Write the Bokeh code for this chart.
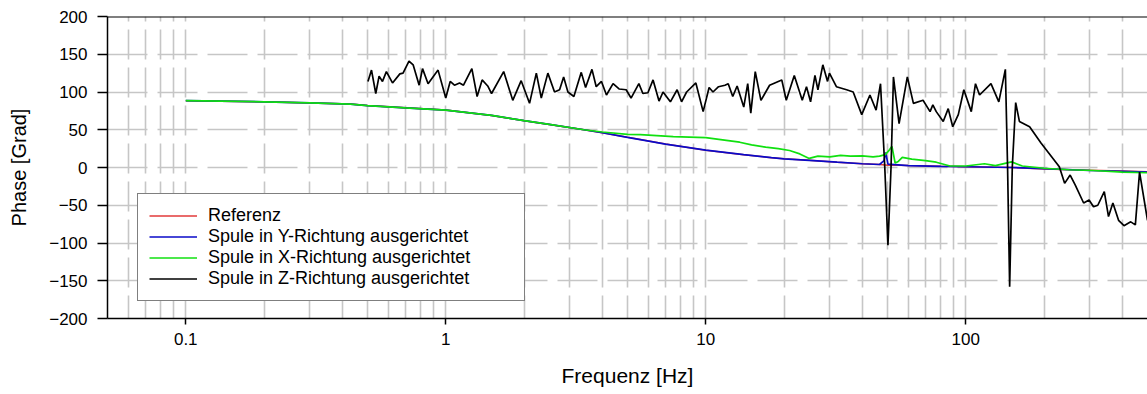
from bokeh.plotting import figure
from bokeh.models import FixedTicker, CustomJSTickFormatter, Span
from bokeh.embed import file_html
from bokeh.resources import INLINE

# ---------------- data ----------------
series_names = ["Referenz",
                "Spule in Y-Richtung ausgerichtet",
                "Spule in X-Richtung ausgerichtet",
                "Spule in Z-Richtung ausgerichtet"]

freq_ref = [0.1, 0.2, 0.3, 0.43, 0.5, 0.7, 1.0, 1.5, 2.0, 2.5, 3.4, 4.0, 5.0, 5.6, 7.0,
            10.0, 14.0, 17.9, 20.0, 25.0, 32.0, 40.0, 46.6, 50.2, 55.0, 60.0, 80.0, 100.0,
            150.0, 200.0, 300.0, 400.0, 500.0]
phase_ref = [88.5, 87, 85.5, 84, 82, 79, 76, 69, 62, 57, 50, 46, 40, 37, 31,
             23, 17, 13, 11.5, 9.5, 7, 5, 4, 3, 3, 2.5, 1.5, 1,
             0, -2, -3.5, -4.5, -5.5]

freq_y = [0.1, 0.2, 0.3, 0.43, 0.5, 0.7, 1.0, 1.5, 2.0, 2.5, 3.4, 4.0, 5.0, 5.6, 7.0,
          10.0, 14.0, 17.9, 20.0, 25.0, 32.0, 40.0, 46.6, 48.5, 49.2, 50.2, 55.0, 60.0,
          80.0, 100.0, 150.0, 200.0, 300.0, 400.0, 500.0]
phase_y = [88.5, 87, 85.5, 84, 82, 79, 76, 69, 62, 57, 50, 46, 40, 37, 31,
           23, 17, 13, 11.5, 9.5, 7, 5, 4, 9, 20, 4.5, 3.5, 2.5,
           1.5, 1, 0, -1.5, -4, -5, -6]

freq_x = [0.1, 0.2, 0.3, 0.43, 0.5, 0.7, 1.0, 1.5, 2.0, 2.5, 3.4, 4.0, 5.0, 5.6, 7.5,
          10.0, 12.0, 13.5, 15.0, 17.0, 19.0, 21.0, 23.0, 25.0, 27.0, 30.0, 33.0, 36.0,
          40.0, 44.0, 46.6, 49.0, 50.5, 52.0, 53.5, 55.0, 57.0, 62.0, 70.0, 77.0, 87.0,
          100.0, 118.0, 130.0, 150.0, 165.0, 200.0, 250.0, 310.0, 400.0, 500.0]
phase_x = [88.5, 87, 85.5, 84, 82, 79, 76, 69, 62, 57, 50, 47, 44, 43.5, 41,
           39.5, 36, 33.5, 30, 27, 25, 22.5, 18, 12, 15, 14, 16, 15,
           15.5, 14, 15, 17, 22, 28, 6, 8, 13.5, 11, 9, 7, 2,
           2, 5, 2.5, 7.5, 2, -1, -3, -4, -6, -7]

freq_z = [0.502, 0.518, 0.538, 0.554, 0.571, 0.591, 0.624, 0.666, 0.685, 0.722,
          0.749, 0.790, 0.814, 0.855, 0.934, 1.0, 1.04, 1.08, 1.13, 1.17,
          1.26, 1.32, 1.38, 1.45, 1.50, 1.67, 1.81, 1.95, 2.10, 2.23,
          2.33, 2.47, 2.62, 2.74, 2.84, 2.95, 3.11, 3.32, 3.45, 3.65,
          3.79, 3.97, 4.15, 4.40, 4.64, 4.94, 5.16, 5.53, 5.73, 5.99,
          6.27, 6.61, 6.85, 7.31, 7.76, 8.07, 8.44, 9.16, 9.77, 10.3,
          10.66, 11.2, 11.85, 12.2, 12.7, 13.2, 14.0, 14.5, 14.9, 15.5,
          16.3, 17.6, 19.6, 20.4, 21.9, 23.5, 24.4, 25.3, 26.3, 27.0,
          28.2, 29.4, 29.9, 31.8, 34.8, 36.9, 39.8, 42.8, 45.2, 47.0,
          48.8, 50.2, 51.6, 52.7, 55.4, 59.6, 62.9, 68.5, 72.9, 74.7,
          77.0, 81.9, 85.6, 89.1, 93.6, 98.3, 105.0, 109.0, 113.0, 125.0,
          134.0, 142.0, 144.8, 147.5, 151.0, 155.6, 160.8, 176.0, 195.0, 229.0,
          240.0, 252.0, 263.5, 284.0, 298.0, 310.0, 322.0, 341.0, 354.0, 368.0,
          387.0, 406.0, 431.0, 449.0, 466.0, 500.0]
phase_z = [114, 129, 98, 121, 114, 127, 112, 124, 125, 141,
           136, 109, 131, 111, 129, 92, 114, 109, 112, 109,
           131, 94, 116, 108, 98, 127, 89, 115, 85, 125,
           92, 125, 100, 103, 120, 100, 94, 126, 106, 130,
           107, 114, 96, 111, 104, 103, 92, 111, 98, 99,
           116, 88, 100, 87, 103, 87, 100, 112, 74, 106,
           100, 107, 109, 111, 94, 108, 80, 111, 72, 127,
           89, 109, 116, 89, 122, 89, 107, 87, 122, 103,
           136, 114, 125, 107, 103, 100, 70, 96, 76, 111,
           1, -103, 1, 120, 58, 120, 85, 89, 74, 83,
           74, 61, 78, 54, 70, 103, 74, 111, 96, 111,
           87, 130, 1, -158, 1, 86, 61, 54, 32, 1,
           -21, -10, -23, -47, -43, -52, -50, -32, -65, -47,
           -70, -77, -72, -76, -6, -70]

x_major_ticks = [0.1, 1, 10, 100]
x_minor_ticks = [0.06, 0.07, 0.08, 0.09,
                 0.2, 0.3, 0.4, 0.5, 0.6, 0.7, 0.8, 0.9,
                 2, 3, 4, 5, 6, 7, 8, 9,
                 20, 30, 40, 50, 60, 70, 80, 90,
                 200, 300, 400]
y_ticks = [-200, -150, -100, -50, 0, 50, 100, 150, 200]

x_label = "Frequenz [Hz]"
y_label = "Phase [Grad]"

FONT = "Liberation Sans"

# ---------------- figure ----------------
p = figure(width=1147, height=394, x_axis_type="log",
           x_range=(0.05, 500), y_range=(-200, 200),
           output_backend="svg", toolbar_location=None,
           min_border_left=107, min_border_right=0,
           min_border_top=16, min_border_bottom=76)
p.outline_line_color = None
p.background_fill_color = "white"

# grids
p.xaxis.ticker = FixedTicker(ticks=x_major_ticks, minor_ticks=x_minor_ticks)
p.yaxis.ticker = FixedTicker(ticks=y_ticks)
p.xaxis.formatter = CustomJSTickFormatter(code="return String(tick);")

grid_col = "#c6c6c6"
p.xgrid.grid_line_color = grid_col
p.xgrid.grid_line_width = 1.6
p.xgrid.grid_line_dash = "30 8"
p.xgrid.grid_line_dash_offset = 7
p.xgrid.minor_grid_line_color = grid_col
p.xgrid.minor_grid_line_width = 1.6
p.xgrid.minor_grid_line_dash = "30 8"
p.xgrid.minor_grid_line_dash_offset = 7
p.ygrid.grid_line_color = grid_col
p.ygrid.grid_line_width = 1.6
p.ygrid.grid_line_dash = "40 10"

# axes
for ax in (p.xaxis, p.yaxis):
    ax.axis_line_color = "black"
    ax.axis_line_width = 1.5
    ax.major_tick_line_color = "black"
    ax.major_tick_line_width = 1.5
    ax.major_tick_in = 0
    ax.minor_tick_line_color = None
    ax.major_label_text_font = FONT
    ax.major_label_text_font_size = "17px"
    ax.major_label_text_color = "black"
    ax.axis_label_text_font = FONT
    ax.axis_label_text_font_style = "normal"
    ax.axis_label_text_color = "black"

p.xaxis.major_tick_out = 6
p.xaxis.major_label_standoff = 8
p.xaxis.axis_label = x_label
p.xaxis.axis_label_text_font_size = "21px"
p.xaxis.axis_label_standoff = 16

p.yaxis.major_tick_out = 10
p.yaxis.major_label_standoff = 10
p.yaxis.axis_label = y_label
p.yaxis.axis_label_text_font_size = "20px"
p.yaxis.axis_label_standoff = 16

# top border
p.add_layout(Span(location=200, dimension="width", line_color="black", line_width=2))

# series
p.line(freq_ref, phase_ref, line_color="#e23a3a", line_width=1.5, legend_label=series_names[0])
p.line(freq_y, phase_y, line_color="#0a0ac8", line_width=1.7, legend_label=series_names[1])
p.line(freq_x, phase_x, line_color="#10e010", line_width=1.7, legend_label=series_names[2])
p.line(freq_z, phase_z, line_color="black", line_width=1.7, legend_label=series_names[3])

# legend
lg = p.legend[0]
lg.location = (30, 17)
lg.label_text_font = FONT
lg.label_text_font_size = "18px"
lg.label_text_color = "black"
lg.glyph_width = 48
lg.glyph_height = 19
lg.label_height = 19
lg.label_standoff = 11
lg.label_width = 305
lg.spacing = 0
lg.padding = 11
lg.margin = 0
lg.border_line_color = "black"
lg.border_line_width = 1
lg.background_fill_alpha = 1.0

open("out.html", "w").write(file_html(p, INLINE))
